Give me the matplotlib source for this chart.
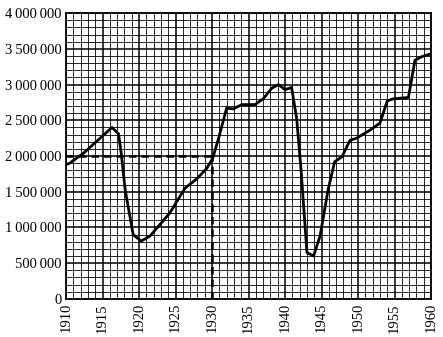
import matplotlib
matplotlib.use("Agg")
import matplotlib.pyplot as plt
from matplotlib.ticker import MultipleLocator, FuncFormatter

# values
years = [1910, 1910.5, 1912.4, 1916.3, 1917.2, 1917.6, 1918.1, 1919.2, 1920.3,
         1921.5, 1924.2, 1926.3, 1927.9, 1929.3, 1930.1, 1930.9, 1932.0, 1932.9,
         1934.1, 1935.9, 1937.0, 1938.2, 1939.1, 1940.0, 1940.9, 1941.6, 1942.2,
         1943.0, 1943.9, 1944.8, 1945.9, 1946.8, 1947.8, 1948.9, 1949.8, 1951.6,
         1953.0, 1954.0, 1954.8, 1956.9, 1957.8, 1958.7, 1960.0]
values = [1880000, 1900000, 2040000, 2400000, 2310000, 2010000, 1530000, 900000, 810000,
          880000, 1200000, 1550000, 1680000, 1830000, 1970000, 2250000, 2670000, 2660000,
          2720000, 2720000, 2800000, 2950000, 3000000, 2930000, 2960000, 2520000, 1800000,
          650000, 600000, 880000, 1530000, 1920000, 1990000, 2220000, 2250000, 2360000,
          2460000, 2770000, 2800000, 2820000, 3340000, 3390000, 3430000]
ref_year = 1930
ref_value = 2000000

fig = plt.figure(figsize=(4.43, 3.37), dpi=100)
ax = fig.add_axes([0.149, 0.113, 0.824, 0.848])

ax.set_xlim(1910, 1960)
ax.set_ylim(0, 4000000)
ax.xaxis.set_major_locator(MultipleLocator(5))
ax.xaxis.set_minor_locator(MultipleLocator(1))
ax.yaxis.set_major_locator(MultipleLocator(500000))
ax.yaxis.set_minor_locator(MultipleLocator(100000))
ax.yaxis.set_major_formatter(FuncFormatter(
    lambda v, p: "0" if v == 0 else f"{int(v):,}".replace(",", "\u2009")))

ax.grid(which="minor", color="black", lw=0.6)
ax.grid(which="major", color="black", lw=1.1)
ax.set_axisbelow(True)
for s in ax.spines.values():
    s.set_linewidth(1.3)

ax.tick_params(which="both", length=0, pad=3)
ax.tick_params(axis="x", labelrotation=90)
for lbl in ax.get_xticklabels() + ax.get_yticklabels():
    lbl.set_fontfamily("Liberation Serif")
    lbl.set_fontsize(10.5)

ax.plot([1910, ref_year], [ref_value, ref_value], color="black", lw=1.8, ls=(0, (3, 2)))
ax.plot([ref_year, ref_year], [0, ref_value], color="black", lw=1.8, ls=(0, (3, 2)))
ax.plot(years, values, color="black", lw=2.0, solid_joinstyle="round")

fig.savefig("out.png", dpi=100)
